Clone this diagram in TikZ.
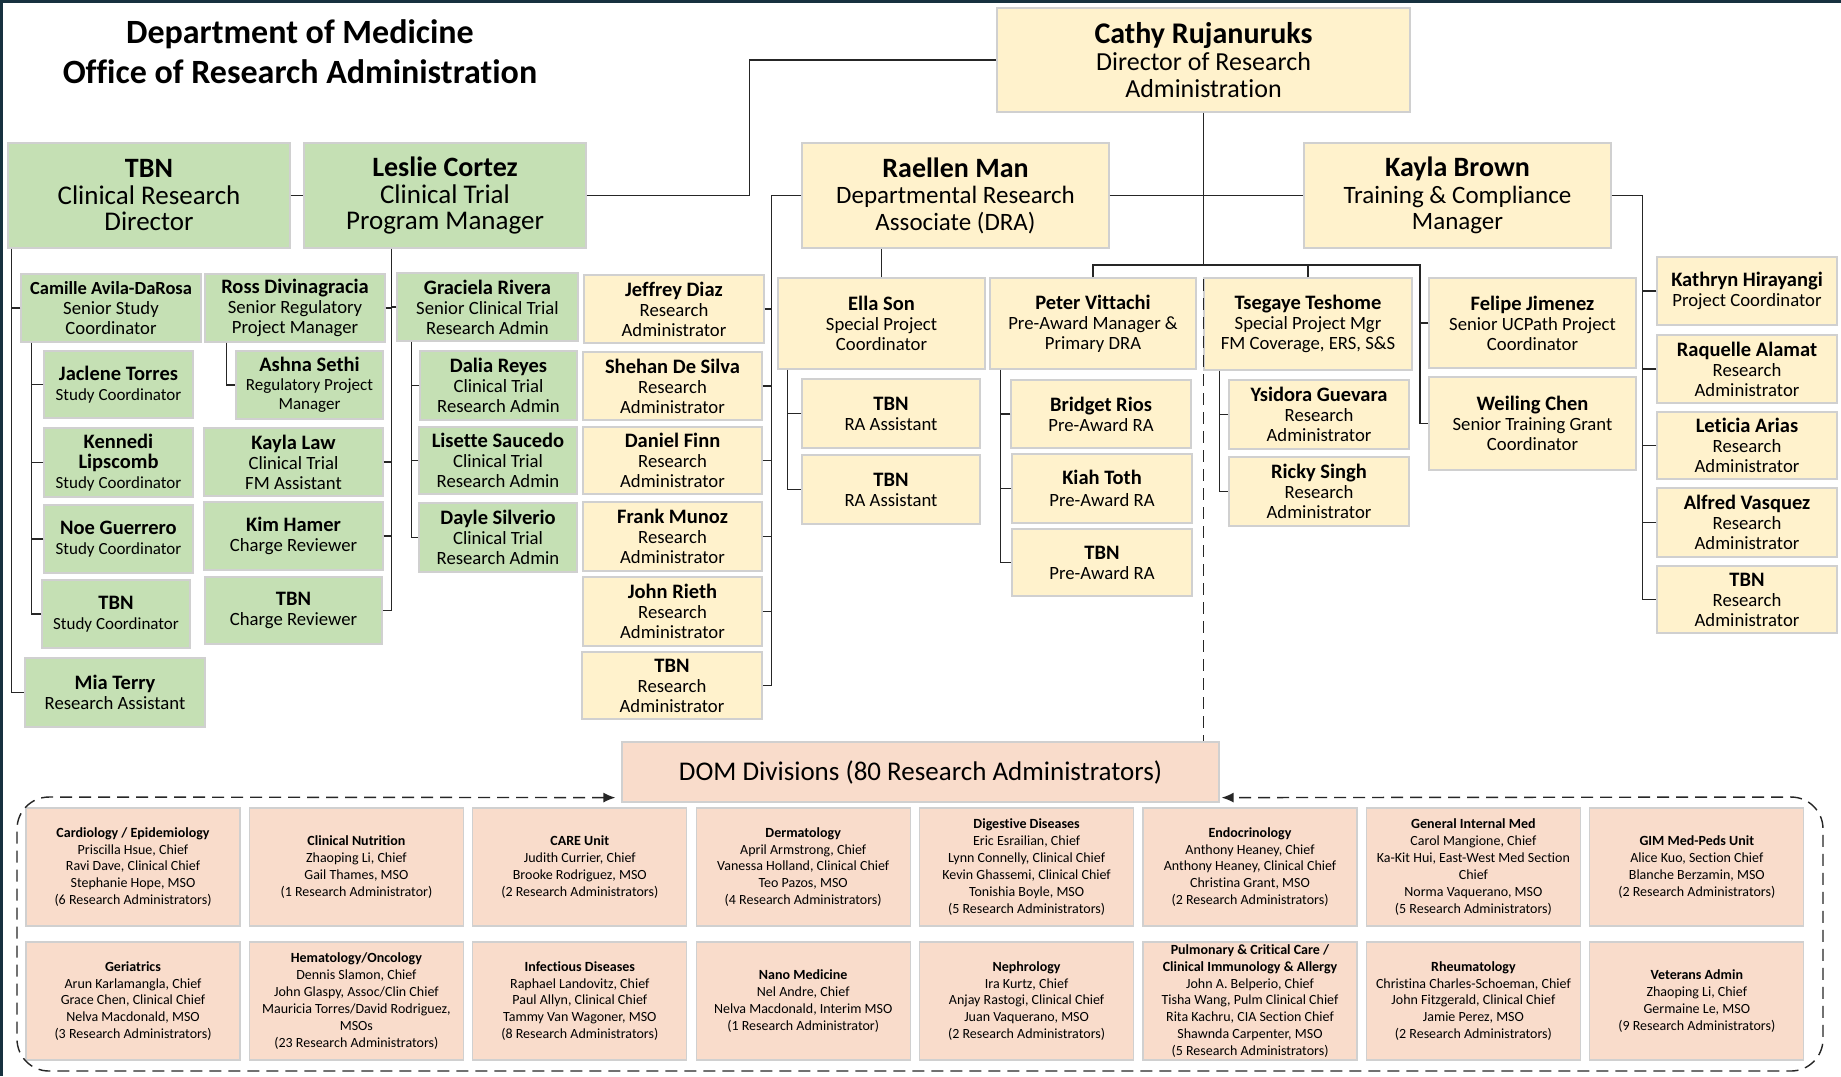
\documentclass[tikz,border=0pt]{standalone}
\usepackage{fontspec}
\setmainfont{Carlito}[Ligatures={TeX,NoCommon}]
\usetikzlibrary{calc,arrows.meta}
\definecolor{gfill}{HTML}{C5E0B4}
\definecolor{yfill}{HTML}{FFF2CC}
\definecolor{pfill}{HTML}{F9DCCB}
\definecolor{bline}{HTML}{D0D0D0}
\definecolor{cline}{HTML}{262626}
\definecolor{framec}{HTML}{17313F}
\newcommand\bnm[1]{{\fontsize{28}{26.5}\selectfont\bfseries #1}}
\newcommand\snm[1]{{\fontsize{20.5}{20}\selectfont\bfseries #1}}
\begin{document}
\begin{tikzpicture}[x=1pt,y=-1pt,
  box/.style={draw=bline, line width=1.2pt, inner sep=0pt, align=center, anchor=center},
  sz/.style 2 args={minimum width=#1pt, minimum height=#2pt},
  gtop/.style={box, fill=gfill, sz={282}{105}, font=\fontsize{27}{26.5}\selectfont},
  ytop/.style={box, fill=yfill, sz={307}{105}, font=\fontsize{25}{26.5}\selectfont},
  gs/.style={box, fill=gfill, font=\fontsize{18.7}{20}\selectfont},
  ys/.style={box, fill=yfill, font=\fontsize{18.7}{20}\selectfont},
  div/.style={box, fill=pfill, sz={214}{118}, font=\fontsize{14}{16.9}\selectfont},
  conn/.style={draw=cline, line width=1.4pt},
  dashl/.style={draw=cline, line width=1.4pt, dash pattern=on 12pt off 7pt}]
\useasboundingbox (0,0) rectangle (1841,1076);
\fill[white] (0,0) rectangle (1841,1076);
\fill[framec] (0,0) rectangle (3,1076);
\fill[framec] (0,0) rectangle (1841,3);

% title
\node[align=center, inner sep=0pt, font=\fontsize{34}{40}\selectfont\bfseries] (title) at (300,52)
  {Department of Medicine\\Office of Research Administration};

% top level
\node[box, fill=yfill, sz={413}{104}, font=\fontsize{26}{27}\selectfont] (cathy) at (1203.5,60)
  {{\fontsize{30}{27}\selectfont\bfseries Cathy Rujanuruks}\\Director of Research\\Administration};
\node[gtop] (crd) at (149,195.5) {\bnm{TBN}\\Clinical Research\\Director};
\node[gtop] (leslie) at (445,195.5) {\bnm{Leslie Cortez}\\Clinical Trial\\Program Manager};
\node[ytop] (raellen) at (955.5,195.5) {\bnm{Raellen Man}\\Departmental Research\\Associate (DRA)};
\node[ytop] (kbrown) at (1457.5,195.5) {\bnm{Kayla Brown}\\Training \& Compliance\\Manager};

% green column 1
\node[gs, sz={180}{68}] (camille) at (111,308) {{\fontsize{18.5}{20}\selectfont\bfseries Camille Avila-DaRosa}\\Senior Study\\Coordinator};
\node[gs, sz={149}{67}, font=\fontsize{17}{20}\selectfont] (jaclene) at (118.5,384.5) {\snm{Jaclene Torres}\\Study Coordinator};
\node[gs, sz={149}{69}, font=\fontsize{17}{20}\selectfont] (kennedi) at (118.5,462.5) {\snm{Kennedi}\\\snm{Lipscomb}\\Study Coordinator};
\node[gs, sz={149}{68}, font=\fontsize{17}{20}\selectfont] (noe) at (118.5,539) {\snm{Noe Guerrero}\\Study Coordinator};
\node[gs, sz={148}{68}, font=\fontsize{17}{20}\selectfont] (tbnsc) at (116,614) {\snm{TBN}\\Study Coordinator};
\node[gs, sz={180}{69}] (mia) at (115,692.5) {\snm{Mia Terry}\\Research Assistant};

% green column 2
\node[gs, sz={180}{68}] (ross) at (295,308) {\snm{Ross Divinagracia}\\Senior Regulatory\\Project Manager};
\node[gs, sz={147}{68}, font=\fontsize{17}{19}\selectfont] (ashna) at (309.5,385) {\snm{Ashna Sethi}\\Regulatory Project\\Manager};
\node[gs, sz={179}{68}] (kaylalaw) at (293.5,462) {\snm{Kayla Law}\\Clinical Trial\\FM Assistant};
\node[gs, sz={179}{68}] (kim) at (293.5,536) {\snm{Kim Hamer}\\Charge Reviewer};
\node[gs, sz={177}{67}] (tbncr) at (293.5,610.5) {\snm{TBN}\\Charge Reviewer};

% green column 3
\node[gs, sz={181}{68}] (graciela) at (487.5,307) {\snm{Graciela Rivera}\\Senior Clinical Trial\\Research Admin};
\node[gs, sz={157}{69}] (dalia) at (498.5,385.5) {\snm{Dalia Reyes}\\Clinical Trial\\Research Admin};
\node[gs, sz={158}{67}] (lisette) at (498,460.5) {\snm{Lisette Saucedo}\\Clinical Trial\\Research Admin};
\node[gs, sz={158}{69}] (dayle) at (498,537.5) {\snm{Dayle Silverio}\\Clinical Trial\\Research Admin};

% yellow RA column
\node[ys, sz={180}{68}] (jeffrey) at (674,309) {\snm{Jeffrey Diaz}\\Research\\Administrator};
\node[ys, sz={179}{68}] (shehan) at (672.5,386) {\snm{Shehan De Silva}\\Research\\Administrator};
\node[ys, sz={179}{67}] (daniel) at (672.5,460.5) {\snm{Daniel Finn}\\Research\\Administrator};
\node[ys, sz={179}{69}] (frank) at (672.5,536.5) {\snm{Frank Munoz}\\Research\\Administrator};
\node[ys, sz={179}{69}] (john) at (672.5,611.5) {\snm{John Rieth}\\Research\\Administrator};
\node[ys, sz={180}{67}] (tbnra) at (672,685.5) {\snm{TBN}\\Research\\Administrator};

% Ella group
\node[ys, sz={207}{91}] (ella) at (881.5,323.5) {\snm{Ella Son}\\Special Project\\Coordinator};
\node[ys, sz={178}{69}] (tbnraa1) at (891,413.5) {\snm{TBN}\\RA Assistant};
\node[ys, sz={178}{69}] (tbnraa2) at (891,489.5) {\snm{TBN}\\RA Assistant};

% Peter group
\node[ys, sz={206}{91}] (peter) at (1093,323.5) {\snm{Peter Vittachi}\\Pre-Award Manager \&\\Primary DRA};
\node[ys, sz={180}{68}] (bridget) at (1101,414) {\snm{Bridget Rios}\\Pre-Award RA};
\node[ys, sz={180}{69}] (kiah) at (1102,488.5) {\snm{Kiah Toth}\\[2pt]Pre-Award RA};
\node[ys, sz={180}{67}] (tbnpa) at (1102,562.5) {\snm{TBN}\\Pre-Award RA};

% Tsegaye group
\node[ys, sz={208}{92}] (tsegaye) at (1308,324) {\snm{Tsegaye Teshome}\\Special Project Mgr\\FM Coverage, ERS, S\&S};
\node[ys, sz={180}{69}] (ysidora) at (1319,414.5) {\snm{Ysidora Guevara}\\Research\\Administrator};
\node[ys, sz={180}{69}] (ricky) at (1319,491.5) {\snm{Ricky Singh}\\Research\\Administrator};

% Felipe / Weiling
\node[ys, sz={207}{90}] (felipe) at (1532.5,323) {\snm{Felipe Jimenez}\\Senior UCPath Project\\Coordinator};
\node[ys, sz={207}{93}] (weiling) at (1532.5,423.5) {\snm{Weiling Chen}\\Senior Training Grant\\Coordinator};

% Kayla right column
\node[ys, sz={180}{68}] (kathryn) at (1747,291) {\snm{Kathryn Hirayangi}\\Project Coordinator};
\node[ys, sz={180}{68}] (raquelle) at (1747,369) {\snm{Raquelle Alamat}\\Research\\Administrator};
\node[ys, sz={180}{67}] (leticia) at (1747,445.5) {\snm{Leticia Arias}\\Research\\Administrator};
\node[ys, sz={180}{69}] (alfred) at (1747,522.5) {\snm{Alfred Vasquez}\\Research\\Administrator};
\node[ys, sz={180}{67}] (tbnra2) at (1747,599.5) {\snm{TBN}\\Research\\Administrator};

% DOM
\node[box, fill=pfill, sz={597}{60}, font=\fontsize{27}{30}\selectfont] (dom) at (920.5,772) {DOM Divisions (80 Research Administrators)};

% divisions row 1
\node[div] (d1) at (133,867) {\textbf{Cardiology / Epidemiology}\\Priscilla Hsue, Chief\\Ravi Dave, Clinical Chief\\Stephanie Hope, MSO\\(6 Research Administrators)};
\node[div] (d2) at (356.4,867) {\textbf{Clinical Nutrition}\\Zhaoping Li, Chief\\Gail Thames, MSO\\(1 Research Administrator)};
\node[div] (d3) at (579.8,867) {\textbf{CARE Unit}\\Judith Currier, Chief\\Brooke Rodriguez, MSO\\(2 Research Administrators)};
\node[div] (d4) at (803.2,867) {\textbf{Dermatology}\\April Armstrong, Chief\\Vanessa Holland, Clinical Chief\\Teo Pazos, MSO\\(4 Research Administrators)};
\node[div] (d5) at (1026.6,867) {\textbf{Digestive Diseases}\\Eric Esrailian, Chief\\Lynn Connelly, Clinical Chief\\Kevin Ghassemi, Clinical Chief\\Tonishia Boyle, MSO\\(5 Research Administrators)};
\node[div] (d6) at (1250,867) {\textbf{Endocrinology}\\Anthony Heaney, Chief\\Anthony Heaney, Clinical Chief\\Christina Grant, MSO\\(2 Research Administrators)};
\node[div] (d7) at (1473.4,867) {\textbf{General Internal Med}\\Carol Mangione, Chief\\Ka-Kit Hui, East-West Med Section\\Chief\\Norma Vaquerano, MSO\\(5 Research Administrators)};
\node[div] (d8) at (1696.8,867) {\textbf{GIM Med-Peds Unit}\\Alice Kuo, Section Chief\\Blanche Berzamin, MSO\\(2 Research Administrators)};

% divisions row 2
\node[div] (e1) at (133,1001) {\textbf{Geriatrics}\\Arun Karlamangla, Chief\\Grace Chen, Clinical Chief\\Nelva Macdonald, MSO\\(3 Research Administrators)};
\node[div] (e2) at (356.4,1001) {\textbf{Hematology/Oncology}\\Dennis Slamon, Chief\\John Glaspy, Assoc/Clin Chief\\Mauricia Torres/David Rodriguez,\\MSOs\\(23 Research Administrators)};
\node[div] (e3) at (579.8,1001) {\textbf{Infectious Diseases}\\Raphael Landovitz, Chief\\Paul Allyn, Clinical Chief\\Tammy Van Wagoner, MSO\\(8 Research Administrators)};
\node[div] (e4) at (803.2,1001) {\textbf{Nano Medicine}\\Nel Andre, Chief\\Nelva Macdonald, Interim MSO\\(1 Research Administrator)};
\node[div] (e5) at (1026.6,1001) {\textbf{Nephrology}\\Ira Kurtz, Chief\\Anjay Rastogi, Clinical Chief\\Juan Vaquerano, MSO\\(2 Research Administrators)};
\node[div] (e6) at (1250,1001) {\textbf{Pulmonary \& Critical Care /}\\\textbf{Clinical Immunology \& Allergy}\\John A. Belperio, Chief\\Tisha Wang, Pulm Clinical Chief\\Rita Kachru, CIA Section Chief\\Shawnda Carpenter, MSO\\(5 Research Administrators)};
\node[div] (e7) at (1473.4,1001) {\textbf{Rheumatology}\\Christina Charles-Schoeman, Chief\\John Fitzgerald, Clinical Chief\\Jamie Perez, MSO\\(2 Research Administrators)};
\node[div] (e8) at (1696.8,1001) {\textbf{Veterans Admin}\\Zhaoping Li, Chief\\Germaine Le, MSO\\(9 Research Administrators)};

% ---------- connectors ----------
\draw[conn] (crd.east) -- (leslie.west);
\draw[conn] (leslie.east) -- ++(163,0) |- (cathy.west);
\draw[conn] (raellen.east) -- (kbrown.west);

% TBN CRD
\coordinate (cl) at ([xshift=4pt]crd.south west);
\draw[conn] (cl) |- (mia.west);
\draw[conn] (camille.west) -- (camille.west -| cl);
\coordinate (cc) at ([xshift=11pt]camille.south west);
\draw[conn] (cc) |- (tbnsc.west);
\foreach \n in {jaclene,kennedi,noe} \draw[conn] (\n.west) -- (\n.west -| cc);

% Leslie
\coordinate (lc) at ([xshift=88pt]leslie.south west);
\draw[conn] (lc) |- (tbncr.east);
\foreach \n in {ross,kaylalaw,kim} \draw[conn] (\n.east) -- (\n.east -| lc);
\draw[conn] (graciela.west) -- (graciela.west -| lc);
\draw[conn] ([xshift=22pt]ross.south west) |- (ashna.west);
\coordinate (gc) at ([xshift=15pt]graciela.south west);
\draw[conn] (gc) |- (dayle.west);
\foreach \n in {dalia,lisette} \draw[conn] (\n.west) -- (\n.west -| gc);

% Raellen
\coordinate (rl) at ($(raellen.west)+(-30,0)$);
\draw[conn] (raellen.west) -- (rl) |- (tbnra.east);
\foreach \n in {jeffrey,shehan,daniel,frank,john} \draw[conn] (\n.east) -- (\n.east -| rl);
\draw[conn] (ella.north) -- (ella.north |- raellen.south);
\coordinate (ec) at ([xshift=10pt]ella.south west);
\draw[conn] (ec) |- (tbnraa2.west);
\draw[conn] (tbnraa1.west) -- (tbnraa1.west -| ec);

% Cathy branch
\coordinate (bj) at (1203.5,265);
\coordinate (fw) at (1420,265);
\draw[conn] (cathy.south) -- (bj);
\draw[conn] (peter.north) |- (fw) |- (weiling.west);
\draw[conn] (tsegaye.north) -- (tsegaye.north |- fw);
\draw[conn] (felipe.west) -- (felipe.west -| fw);
\coordinate (pc) at ([xshift=11pt]peter.south west);
\draw[conn] (pc) |- (tbnpa.west);
\foreach \n in {bridget,kiah} \draw[conn] (\n.west) -- (\n.west -| pc);
\coordinate (tc) at ([xshift=16pt]tsegaye.south west);
\draw[conn] (tc) |- (ricky.west);
\draw[conn] (ysidora.west) -- (ysidora.west -| tc);

% Kayla
\coordinate (kc) at ($(kbrown.east)+(31,0)$);
\draw[conn] (kbrown.east) -- (kc) |- (tbnra2.west);
\foreach \n in {kathryn,raquelle,leticia,alfred} \draw[conn] (\n.west) -- (\n.west -| kc);

% dashed links to DOM
\draw[dashl] ([yshift=-14pt]bj) -- (bj |- dom.north);
\coordinate (al) at ($(dom.south west)+(-6,-5)$);
\coordinate (ar) at ($(dom.south east)+(2,-5)$);
\coordinate (k1) at (17,797);
\coordinate (k2) at (17,1071);
\coordinate (k3) at (1823,1071);
\coordinate (k4) at (1823,797);
\draw[dashl, rounded corners=32pt, {Latex[length=12pt,width=10pt]}-{Latex[length=12pt,width=10pt]}]
  (al) -- (k1) -- (k2) -- (k3) -- (k4) -- (ar);
\end{tikzpicture}
\end{document}
